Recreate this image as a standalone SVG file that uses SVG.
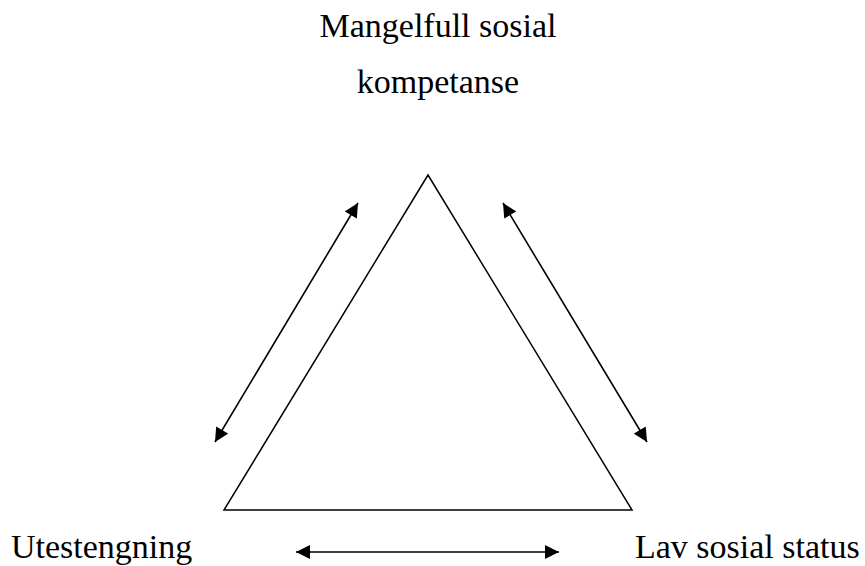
<svg xmlns="http://www.w3.org/2000/svg" width="865" height="566" viewBox="0 0 865 566">
<style>
text{font-family:"Liberation Serif","Times New Roman",serif;font-size:34px;fill:#000}
.tri{fill:none;stroke:#000;stroke-width:1.5}
.arr{fill:none;stroke:#000;stroke-width:1.6;marker-end:url(#ah);marker-start:url(#ah)}
</style>
<defs>
<marker id="ah" viewBox="0 0 10 10" refX="10" refY="5" markerWidth="15" markerHeight="14" markerUnits="userSpaceOnUse" orient="auto-start-reverse">
<path d="M0,0 L10,5 L0,10 Z" fill="#000"/>
</marker>
</defs>
<rect width="865" height="566" fill="#fff"/>
<g id="top">
<text x="438" y="37" text-anchor="middle">Mangelfull sosial</text>
<text x="438" y="93" text-anchor="middle">kompetanse</text>
</g>
<g id="left"><text x="11" y="558">Utestengning</text></g>
<g id="right"><text x="635" y="558">Lav sosial status</text></g>
<g id="triangle"><polygon class="tri" points="428,175 224,510 632,510"/></g>
<g id="connectors">
<line class="arr" x1="215" y1="442" x2="358" y2="203"/>
<line class="arr" x1="503" y1="203" x2="647" y2="442"/>
<line class="arr" x1="296" y1="552" x2="559" y2="552"/>
</g>
</svg>
